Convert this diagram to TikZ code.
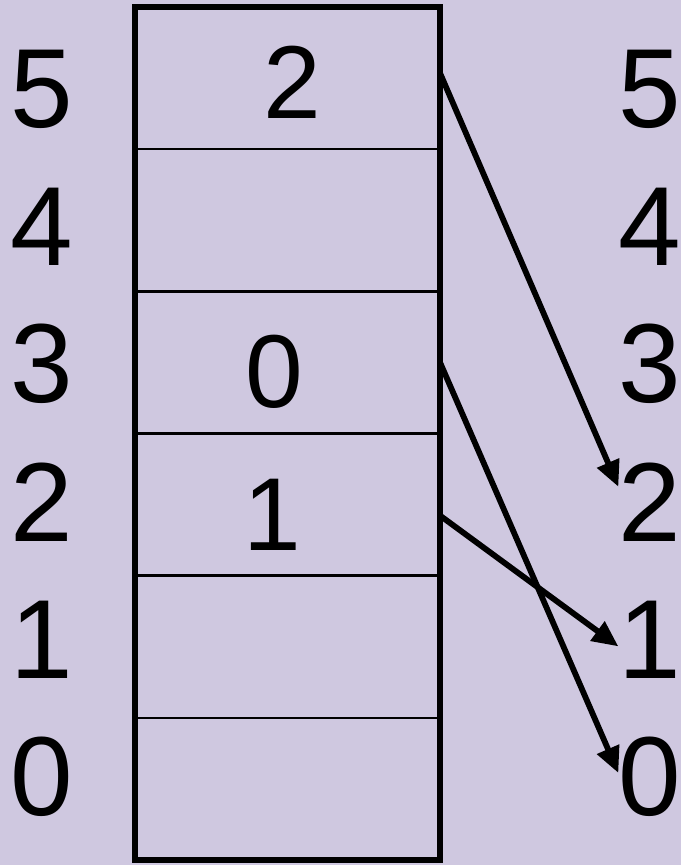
\documentclass[tikz,border=0pt]{standalone}
\usepackage{fontspec}
\setmainfont{Liberation Sans}
\usepackage{xcolor}
\usepackage{tikz}
\usetikzlibrary{arrows.meta,positioning,calc}
\definecolor{lavender}{RGB}{207,200,224}

\begin{document}
\begin{tikzpicture}[
  slot/.style={draw,line width=1.5pt,minimum width=6.1cm,minimum height=2.8433cm,inner sep=0,outer sep=0},
  idx/.style={inner sep=0,font=\fontsize{64}{64}\selectfont},
  num/.style={inner sep=0,font=\fontsize{59}{59}\selectfont},
  link/.style={line width=3.3pt,-{Triangle[length=0.52cm,width=0.46cm]}}]
\useasboundingbox[fill=lavender] (0,0) rectangle (13.62,17.3);
% table slots, bottom to top
\foreach \i in {0,...,5}
  \node[slot] (slot\i) at (5.75,{1.5217+2.8433*\i}) {};
\draw[line width=3.5pt] (slot5.north west) rectangle (slot0.south east);
% index labels on both sides
\foreach \i in {0,...,5} {
  \node[idx] (l\i) at (0.83,{1.76+2.752*\i}) {\i};
  \node[idx] (r\i) at (13.0,{1.76+2.752*\i}) {\i};
}
\node[num] (v5) at (5.84,15.65) {2};
\node[num] (v3) at (5.48,9.86) {0};
\node[num] (v2) at (5.44,7.01) {1};
\draw[link] ($(slot5.east)+(0,0.1)$) -- ($(r2.west)+(0,0.3)$);
\draw[link] (slot3.east) -- ($(r0.west)+(0,0.08)$);
\draw[link] ($(slot2.east)+(0,-0.22)$) -- ($(r1.west)+(0,-0.14)$);
\end{tikzpicture}
\end{document}
